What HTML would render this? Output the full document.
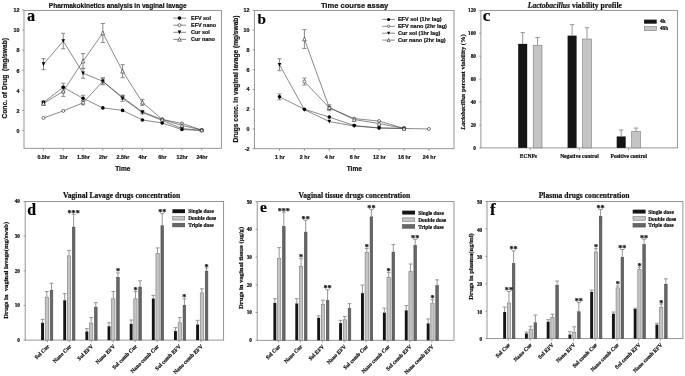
<!DOCTYPE html>
<html><head><meta charset="utf-8"><style>
html,body{margin:0;padding:0;background:#fff;}
body{width:685px;height:376px;overflow:hidden;font-family:"Liberation Sans", sans-serif;}
svg{display:block;will-change:transform;} text{stroke:#111;stroke-width:0.2px;}
</style></head><body>
<svg width="685" height="376" viewBox="0 0 685 376">
<rect width="685" height="376" fill="#fff"/>
<rect x="24" y="10.4" width="197.4" height="137.9" fill="none" stroke="#8a8a8a" stroke-width="0.9"/>
<line x1="22.4" y1="130.5" x2="24" y2="130.5" stroke="#8a8a8a" stroke-width="0.9"/>
<text x="19.4" y="132.8" font-family='"Liberation Sans", sans-serif' font-size="5.4" font-weight="bold" text-anchor="end" fill="#111" >0</text>
<line x1="22.4" y1="110.4" x2="24" y2="110.4" stroke="#8a8a8a" stroke-width="0.9"/>
<text x="19.4" y="112.7" font-family='"Liberation Sans", sans-serif' font-size="5.4" font-weight="bold" text-anchor="end" fill="#111" >2</text>
<line x1="22.4" y1="90.3" x2="24" y2="90.3" stroke="#8a8a8a" stroke-width="0.9"/>
<text x="19.4" y="92.6" font-family='"Liberation Sans", sans-serif' font-size="5.4" font-weight="bold" text-anchor="end" fill="#111" >4</text>
<line x1="22.4" y1="70.2" x2="24" y2="70.2" stroke="#8a8a8a" stroke-width="0.9"/>
<text x="19.4" y="72.5" font-family='"Liberation Sans", sans-serif' font-size="5.4" font-weight="bold" text-anchor="end" fill="#111" >6</text>
<line x1="22.4" y1="50.1" x2="24" y2="50.1" stroke="#8a8a8a" stroke-width="0.9"/>
<text x="19.4" y="52.4" font-family='"Liberation Sans", sans-serif' font-size="5.4" font-weight="bold" text-anchor="end" fill="#111" >8</text>
<line x1="22.4" y1="30" x2="24" y2="30" stroke="#8a8a8a" stroke-width="0.9"/>
<text x="19.4" y="32.3" font-family='"Liberation Sans", sans-serif' font-size="5.4" font-weight="bold" text-anchor="end" fill="#111" >10</text>
<line x1="22.4" y1="9.9" x2="24" y2="9.9" stroke="#8a8a8a" stroke-width="0.9"/>
<text x="19.4" y="12.2" font-family='"Liberation Sans", sans-serif' font-size="5.4" font-weight="bold" text-anchor="end" fill="#111" >12</text>
<line x1="43.5" y1="148.3" x2="43.5" y2="150.3" stroke="#8a8a8a" stroke-width="0.9"/>
<line x1="63.28" y1="148.3" x2="63.28" y2="150.3" stroke="#8a8a8a" stroke-width="0.9"/>
<line x1="83.06" y1="148.3" x2="83.06" y2="150.3" stroke="#8a8a8a" stroke-width="0.9"/>
<line x1="102.84" y1="148.3" x2="102.84" y2="150.3" stroke="#8a8a8a" stroke-width="0.9"/>
<line x1="122.62" y1="148.3" x2="122.62" y2="150.3" stroke="#8a8a8a" stroke-width="0.9"/>
<line x1="142.4" y1="148.3" x2="142.4" y2="150.3" stroke="#8a8a8a" stroke-width="0.9"/>
<line x1="162.18" y1="148.3" x2="162.18" y2="150.3" stroke="#8a8a8a" stroke-width="0.9"/>
<line x1="181.96" y1="148.3" x2="181.96" y2="150.3" stroke="#8a8a8a" stroke-width="0.9"/>
<line x1="201.74" y1="148.3" x2="201.74" y2="150.3" stroke="#8a8a8a" stroke-width="0.9"/>
<text x="43.8" y="159" font-family='"Liberation Sans", sans-serif' font-size="5.35" font-weight="bold" text-anchor="middle" fill="#111" >0.5hr</text>
<text x="63.58" y="159" font-family='"Liberation Sans", sans-serif' font-size="5.35" font-weight="bold" text-anchor="middle" fill="#111" >1hr</text>
<text x="83.36" y="159" font-family='"Liberation Sans", sans-serif' font-size="5.35" font-weight="bold" text-anchor="middle" fill="#111" >1.5hr</text>
<text x="103.14" y="159" font-family='"Liberation Sans", sans-serif' font-size="5.35" font-weight="bold" text-anchor="middle" fill="#111" >2hr</text>
<text x="122.92" y="159" font-family='"Liberation Sans", sans-serif' font-size="5.35" font-weight="bold" text-anchor="middle" fill="#111" >2.5hr</text>
<text x="142.7" y="159" font-family='"Liberation Sans", sans-serif' font-size="5.35" font-weight="bold" text-anchor="middle" fill="#111" >4hr</text>
<text x="162.48" y="159" font-family='"Liberation Sans", sans-serif' font-size="5.35" font-weight="bold" text-anchor="middle" fill="#111" >6hr</text>
<text x="182.26" y="159" font-family='"Liberation Sans", sans-serif' font-size="5.35" font-weight="bold" text-anchor="middle" fill="#111" >12hr</text>
<text x="202.04" y="159" font-family='"Liberation Sans", sans-serif' font-size="5.35" font-weight="bold" text-anchor="middle" fill="#111" >24hr</text>
<text x="122.8" y="170.5" font-family='"Liberation Sans", sans-serif' font-size="6.5" font-weight="bold" text-anchor="middle" fill="#111" >Time</text>
<text x="117.8" y="7.6" font-family='"Liberation Sans", sans-serif' font-size="6.55" font-weight="bold" text-anchor="middle" fill="#111" >Pharmakokinetics analysis in vaginal lavage</text>
<text x="7.1" y="78.3" font-family='"Liberation Sans", sans-serif' font-size="6.65" font-weight="bold" text-anchor="middle" fill="#111" transform="rotate(-90 7.1 78.3)">Conc. of Drug&#160;&#160;(mg/swab)</text>
<text x="27.0" y="21.2" font-family='"Liberation Serif", serif' font-size="16.2" font-weight="bold" fill="#000">a</text>
<path d="M43.5 102.36L63.28 87.28L83.06 98.34L102.84 107.89L122.62 110.4L142.4 119.95L162.18 122.96L181.96 129.5L201.74 130.5" fill="none" stroke="#3a3a3a" stroke-width="0.6"/>
<path d="M43.5 117.94L63.28 110.9L83.06 102.86L102.84 81.25L122.62 97.34L142.4 111.91L162.18 119.44L181.96 123.47L201.74 130" fill="none" stroke="#3a3a3a" stroke-width="0.6"/>
<path d="M43.5 64.17L63.28 41.05L83.06 73.22L102.84 81.25L122.62 98.34L142.4 112.41L162.18 120.45L181.96 128.49L201.74 130.5" fill="none" stroke="#3a3a3a" stroke-width="0.6"/>
<path d="M43.5 103.36L63.28 91.31L83.06 61.15L102.84 33.02L122.62 71.2L142.4 102.36L162.18 119.44L181.96 125.47L201.74 130" fill="none" stroke="#3a3a3a" stroke-width="0.6"/>
<line x1="43.5" y1="103.87" x2="43.5" y2="100.85" stroke="#8a8a8a" stroke-width="1.0"/>
<line x1="41.4" y1="100.85" x2="45.6" y2="100.85" stroke="#8a8a8a" stroke-width="1.0"/>
<line x1="41.4" y1="103.87" x2="45.6" y2="103.87" stroke="#8a8a8a" stroke-width="1.0"/>
<line x1="63.28" y1="91.31" x2="63.28" y2="83.26" stroke="#8a8a8a" stroke-width="1.0"/>
<line x1="61.18" y1="83.26" x2="65.38" y2="83.26" stroke="#8a8a8a" stroke-width="1.0"/>
<line x1="61.18" y1="91.31" x2="65.38" y2="91.31" stroke="#8a8a8a" stroke-width="1.0"/>
<line x1="83.06" y1="101.35" x2="83.06" y2="95.32" stroke="#8a8a8a" stroke-width="1.0"/>
<line x1="80.96" y1="95.32" x2="85.16" y2="95.32" stroke="#8a8a8a" stroke-width="1.0"/>
<line x1="80.96" y1="101.35" x2="85.16" y2="101.35" stroke="#8a8a8a" stroke-width="1.0"/>
<line x1="83.06" y1="104.87" x2="83.06" y2="100.85" stroke="#8a8a8a" stroke-width="1.0"/>
<line x1="80.96" y1="100.85" x2="85.16" y2="100.85" stroke="#8a8a8a" stroke-width="1.0"/>
<line x1="80.96" y1="104.87" x2="85.16" y2="104.87" stroke="#8a8a8a" stroke-width="1.0"/>
<line x1="102.84" y1="84.27" x2="102.84" y2="78.24" stroke="#8a8a8a" stroke-width="1.0"/>
<line x1="100.74" y1="78.24" x2="104.94" y2="78.24" stroke="#8a8a8a" stroke-width="1.0"/>
<line x1="100.74" y1="84.27" x2="104.94" y2="84.27" stroke="#8a8a8a" stroke-width="1.0"/>
<line x1="122.62" y1="99.34" x2="122.62" y2="95.32" stroke="#8a8a8a" stroke-width="1.0"/>
<line x1="120.52" y1="95.32" x2="124.72" y2="95.32" stroke="#8a8a8a" stroke-width="1.0"/>
<line x1="120.52" y1="99.34" x2="124.72" y2="99.34" stroke="#8a8a8a" stroke-width="1.0"/>
<line x1="43.5" y1="69.7" x2="43.5" y2="58.64" stroke="#8a8a8a" stroke-width="1.0"/>
<line x1="41.4" y1="58.64" x2="45.6" y2="58.64" stroke="#8a8a8a" stroke-width="1.0"/>
<line x1="41.4" y1="69.7" x2="45.6" y2="69.7" stroke="#8a8a8a" stroke-width="1.0"/>
<line x1="63.28" y1="48.79" x2="63.28" y2="33.32" stroke="#8a8a8a" stroke-width="1.0"/>
<line x1="61.18" y1="33.32" x2="65.38" y2="33.32" stroke="#8a8a8a" stroke-width="1.0"/>
<line x1="61.18" y1="48.79" x2="65.38" y2="48.79" stroke="#8a8a8a" stroke-width="1.0"/>
<line x1="83.06" y1="78.24" x2="83.06" y2="68.19" stroke="#8a8a8a" stroke-width="1.0"/>
<line x1="80.96" y1="68.19" x2="85.16" y2="68.19" stroke="#8a8a8a" stroke-width="1.0"/>
<line x1="80.96" y1="78.24" x2="85.16" y2="78.24" stroke="#8a8a8a" stroke-width="1.0"/>
<line x1="102.84" y1="84.77" x2="102.84" y2="77.74" stroke="#8a8a8a" stroke-width="1.0"/>
<line x1="100.74" y1="77.74" x2="104.94" y2="77.74" stroke="#8a8a8a" stroke-width="1.0"/>
<line x1="100.74" y1="84.77" x2="104.94" y2="84.77" stroke="#8a8a8a" stroke-width="1.0"/>
<line x1="122.62" y1="101.35" x2="122.62" y2="95.32" stroke="#8a8a8a" stroke-width="1.0"/>
<line x1="120.52" y1="95.32" x2="124.72" y2="95.32" stroke="#8a8a8a" stroke-width="1.0"/>
<line x1="120.52" y1="101.35" x2="124.72" y2="101.35" stroke="#8a8a8a" stroke-width="1.0"/>
<line x1="142.4" y1="113.92" x2="142.4" y2="110.9" stroke="#8a8a8a" stroke-width="1.0"/>
<line x1="140.3" y1="110.9" x2="144.5" y2="110.9" stroke="#8a8a8a" stroke-width="1.0"/>
<line x1="140.3" y1="113.92" x2="144.5" y2="113.92" stroke="#8a8a8a" stroke-width="1.0"/>
<line x1="43.5" y1="105.38" x2="43.5" y2="101.35" stroke="#8a8a8a" stroke-width="1.0"/>
<line x1="41.4" y1="101.35" x2="45.6" y2="101.35" stroke="#8a8a8a" stroke-width="1.0"/>
<line x1="41.4" y1="105.38" x2="45.6" y2="105.38" stroke="#8a8a8a" stroke-width="1.0"/>
<line x1="63.28" y1="96.33" x2="63.28" y2="86.28" stroke="#8a8a8a" stroke-width="1.0"/>
<line x1="61.18" y1="86.28" x2="65.38" y2="86.28" stroke="#8a8a8a" stroke-width="1.0"/>
<line x1="61.18" y1="96.33" x2="65.38" y2="96.33" stroke="#8a8a8a" stroke-width="1.0"/>
<line x1="83.06" y1="68.69" x2="83.06" y2="53.62" stroke="#8a8a8a" stroke-width="1.0"/>
<line x1="80.96" y1="53.62" x2="85.16" y2="53.62" stroke="#8a8a8a" stroke-width="1.0"/>
<line x1="80.96" y1="68.69" x2="85.16" y2="68.69" stroke="#8a8a8a" stroke-width="1.0"/>
<line x1="102.84" y1="42.56" x2="102.84" y2="23.47" stroke="#8a8a8a" stroke-width="1.0"/>
<line x1="100.74" y1="23.47" x2="104.94" y2="23.47" stroke="#8a8a8a" stroke-width="1.0"/>
<line x1="100.74" y1="42.56" x2="104.94" y2="42.56" stroke="#8a8a8a" stroke-width="1.0"/>
<line x1="122.62" y1="77.74" x2="122.62" y2="64.67" stroke="#8a8a8a" stroke-width="1.0"/>
<line x1="120.52" y1="64.67" x2="124.72" y2="64.67" stroke="#8a8a8a" stroke-width="1.0"/>
<line x1="120.52" y1="77.74" x2="124.72" y2="77.74" stroke="#8a8a8a" stroke-width="1.0"/>
<line x1="142.4" y1="105.38" x2="142.4" y2="99.34" stroke="#8a8a8a" stroke-width="1.0"/>
<line x1="140.3" y1="99.34" x2="144.5" y2="99.34" stroke="#8a8a8a" stroke-width="1.0"/>
<line x1="140.3" y1="105.38" x2="144.5" y2="105.38" stroke="#8a8a8a" stroke-width="1.0"/>
<circle cx="43.5" cy="102.36" r="1.8" fill="#000"/>
<circle cx="63.28" cy="87.28" r="1.8" fill="#000"/>
<circle cx="83.06" cy="98.34" r="1.8" fill="#000"/>
<circle cx="102.84" cy="107.89" r="1.8" fill="#000"/>
<circle cx="122.62" cy="110.4" r="1.8" fill="#000"/>
<circle cx="142.4" cy="119.95" r="1.8" fill="#000"/>
<circle cx="162.18" cy="122.96" r="1.8" fill="#000"/>
<circle cx="181.96" cy="129.5" r="1.8" fill="#000"/>
<circle cx="201.74" cy="130.5" r="1.8" fill="#000"/>
<circle cx="43.5" cy="117.94" r="1.5" fill="#fff" stroke="#222" stroke-width="0.6"/>
<circle cx="63.28" cy="110.9" r="1.5" fill="#fff" stroke="#222" stroke-width="0.6"/>
<circle cx="83.06" cy="102.86" r="1.5" fill="#fff" stroke="#222" stroke-width="0.6"/>
<circle cx="102.84" cy="81.25" r="1.5" fill="#fff" stroke="#222" stroke-width="0.6"/>
<circle cx="122.62" cy="97.34" r="1.5" fill="#fff" stroke="#222" stroke-width="0.6"/>
<circle cx="142.4" cy="111.91" r="1.5" fill="#fff" stroke="#222" stroke-width="0.6"/>
<circle cx="162.18" cy="119.44" r="1.5" fill="#fff" stroke="#222" stroke-width="0.6"/>
<circle cx="181.96" cy="123.47" r="1.5" fill="#fff" stroke="#222" stroke-width="0.6"/>
<circle cx="201.74" cy="130" r="1.5" fill="#fff" stroke="#222" stroke-width="0.6"/>
<path d="M41.7 62.37L45.3 62.37L43.5 66.15Z" fill="#000"/>
<path d="M61.48 39.25L65.08 39.25L63.28 43.03Z" fill="#000"/>
<path d="M81.26 71.42L84.86 71.42L83.06 75.2Z" fill="#000"/>
<path d="M101.04 79.45L104.64 79.45L102.84 83.23Z" fill="#000"/>
<path d="M120.82 96.54L124.42 96.54L122.62 100.32Z" fill="#000"/>
<path d="M140.6 110.61L144.2 110.61L142.4 114.39Z" fill="#000"/>
<path d="M160.38 118.65L163.98 118.65L162.18 122.43Z" fill="#000"/>
<path d="M180.16 126.69L183.76 126.69L181.96 130.47Z" fill="#000"/>
<path d="M199.94 128.7L203.54 128.7L201.74 132.48Z" fill="#000"/>
<path d="M41.7 105.16L45.3 105.16L43.5 101.38Z" fill="#fff" stroke="#222" stroke-width="0.6"/>
<path d="M61.48 93.11L65.08 93.11L63.28 89.33Z" fill="#fff" stroke="#222" stroke-width="0.6"/>
<path d="M81.26 62.95L84.86 62.95L83.06 59.17Z" fill="#fff" stroke="#222" stroke-width="0.6"/>
<path d="M101.04 34.81L104.64 34.81L102.84 31.04Z" fill="#fff" stroke="#222" stroke-width="0.6"/>
<path d="M120.82 73L124.42 73L122.62 69.22Z" fill="#fff" stroke="#222" stroke-width="0.6"/>
<path d="M140.6 104.16L144.2 104.16L142.4 100.38Z" fill="#fff" stroke="#222" stroke-width="0.6"/>
<path d="M160.38 121.24L163.98 121.24L162.18 117.46Z" fill="#fff" stroke="#222" stroke-width="0.6"/>
<path d="M180.16 127.27L183.76 127.27L181.96 123.49Z" fill="#fff" stroke="#222" stroke-width="0.6"/>
<path d="M199.94 131.8L203.54 131.8L201.74 128.02Z" fill="#fff" stroke="#222" stroke-width="0.6"/>
<line x1="173.3" y1="18.1" x2="186" y2="18.1" stroke="#3a3a3a" stroke-width="0.6"/>
<circle cx="179.5" cy="18.1" r="1.8" fill="#000"/>
<text x="191" y="20.1" font-family='"Liberation Sans", sans-serif' font-size="5.45" font-weight="bold" text-anchor="start" fill="#111" >EFV sol</text>
<line x1="173.3" y1="25.2" x2="186" y2="25.2" stroke="#3a3a3a" stroke-width="0.6"/>
<circle cx="179.5" cy="25.2" r="1.5" fill="#fff" stroke="#222" stroke-width="0.6"/>
<text x="191" y="27.2" font-family='"Liberation Sans", sans-serif' font-size="5.45" font-weight="bold" text-anchor="start" fill="#111" >EFV nano</text>
<line x1="173.3" y1="32.3" x2="186" y2="32.3" stroke="#3a3a3a" stroke-width="0.6"/>
<path d="M177.7 30.5L181.3 30.5L179.5 34.28Z" fill="#000"/>
<text x="191" y="34.3" font-family='"Liberation Sans", sans-serif' font-size="5.45" font-weight="bold" text-anchor="start" fill="#111" >Cur sol</text>
<line x1="173.3" y1="39.4" x2="186" y2="39.4" stroke="#3a3a3a" stroke-width="0.6"/>
<path d="M177.7 41.2L181.3 41.2L179.5 37.42Z" fill="#fff" stroke="#222" stroke-width="0.6"/>
<text x="191" y="41.4" font-family='"Liberation Sans", sans-serif' font-size="5.45" font-weight="bold" text-anchor="start" fill="#111" >Cur nano</text>
<rect x="254.4" y="10.4" width="199.6" height="138.3" fill="none" stroke="#8a8a8a" stroke-width="0.9"/>
<line x1="252.8" y1="148.72" x2="254.4" y2="148.72" stroke="#8a8a8a" stroke-width="0.9"/>
<text x="249.6" y="150.72" font-family='"Liberation Sans", sans-serif' font-size="5.4" font-weight="bold" text-anchor="end" fill="#111" >-2</text>
<line x1="252.8" y1="128.96" x2="254.4" y2="128.96" stroke="#8a8a8a" stroke-width="0.9"/>
<text x="249.6" y="130.96" font-family='"Liberation Sans", sans-serif' font-size="5.4" font-weight="bold" text-anchor="end" fill="#111" >0</text>
<line x1="252.8" y1="109.2" x2="254.4" y2="109.2" stroke="#8a8a8a" stroke-width="0.9"/>
<text x="249.6" y="111.2" font-family='"Liberation Sans", sans-serif' font-size="5.4" font-weight="bold" text-anchor="end" fill="#111" >2</text>
<line x1="252.8" y1="89.44" x2="254.4" y2="89.44" stroke="#8a8a8a" stroke-width="0.9"/>
<text x="249.6" y="91.44" font-family='"Liberation Sans", sans-serif' font-size="5.4" font-weight="bold" text-anchor="end" fill="#111" >4</text>
<line x1="252.8" y1="69.68" x2="254.4" y2="69.68" stroke="#8a8a8a" stroke-width="0.9"/>
<text x="249.6" y="71.68" font-family='"Liberation Sans", sans-serif' font-size="5.4" font-weight="bold" text-anchor="end" fill="#111" >6</text>
<line x1="252.8" y1="49.92" x2="254.4" y2="49.92" stroke="#8a8a8a" stroke-width="0.9"/>
<text x="249.6" y="51.92" font-family='"Liberation Sans", sans-serif' font-size="5.4" font-weight="bold" text-anchor="end" fill="#111" >8</text>
<line x1="252.8" y1="30.16" x2="254.4" y2="30.16" stroke="#8a8a8a" stroke-width="0.9"/>
<text x="249.6" y="32.16" font-family='"Liberation Sans", sans-serif' font-size="5.4" font-weight="bold" text-anchor="end" fill="#111" >10</text>
<line x1="252.8" y1="10.4" x2="254.4" y2="10.4" stroke="#8a8a8a" stroke-width="0.9"/>
<text x="249.6" y="12.4" font-family='"Liberation Sans", sans-serif' font-size="5.4" font-weight="bold" text-anchor="end" fill="#111" >12</text>
<line x1="279.5" y1="148.7" x2="279.5" y2="150.7" stroke="#8a8a8a" stroke-width="0.9"/>
<line x1="304.4" y1="148.7" x2="304.4" y2="150.7" stroke="#8a8a8a" stroke-width="0.9"/>
<line x1="329.3" y1="148.7" x2="329.3" y2="150.7" stroke="#8a8a8a" stroke-width="0.9"/>
<line x1="354.2" y1="148.7" x2="354.2" y2="150.7" stroke="#8a8a8a" stroke-width="0.9"/>
<line x1="379.1" y1="148.7" x2="379.1" y2="150.7" stroke="#8a8a8a" stroke-width="0.9"/>
<line x1="404" y1="148.7" x2="404" y2="150.7" stroke="#8a8a8a" stroke-width="0.9"/>
<line x1="428.9" y1="148.7" x2="428.9" y2="150.7" stroke="#8a8a8a" stroke-width="0.9"/>
<text x="279.9" y="159" font-family='"Liberation Sans", sans-serif' font-size="5.4" font-weight="bold" text-anchor="middle" fill="#111" >1 hr</text>
<text x="304.8" y="159" font-family='"Liberation Sans", sans-serif' font-size="5.4" font-weight="bold" text-anchor="middle" fill="#111" >2 hr</text>
<text x="329.7" y="159" font-family='"Liberation Sans", sans-serif' font-size="5.4" font-weight="bold" text-anchor="middle" fill="#111" >4 hr</text>
<text x="354.6" y="159" font-family='"Liberation Sans", sans-serif' font-size="5.4" font-weight="bold" text-anchor="middle" fill="#111" >6 hr</text>
<text x="379.5" y="159" font-family='"Liberation Sans", sans-serif' font-size="5.4" font-weight="bold" text-anchor="middle" fill="#111" >12 hr</text>
<text x="404.4" y="159" font-family='"Liberation Sans", sans-serif' font-size="5.4" font-weight="bold" text-anchor="middle" fill="#111" >16 hr</text>
<text x="429.3" y="159" font-family='"Liberation Sans", sans-serif' font-size="5.4" font-weight="bold" text-anchor="middle" fill="#111" >24 hr</text>
<text x="354.3" y="170.5" font-family='"Liberation Sans", sans-serif' font-size="6.5" font-weight="bold" text-anchor="middle" fill="#111" >Time</text>
<text x="354.6" y="7.5" font-family='"Liberation Sans", sans-serif' font-size="7.55" font-weight="bold" text-anchor="middle" fill="#111" >Time course assay</text>
<text x="238.2" y="79" font-family='"Liberation Sans", sans-serif' font-size="6.6" font-weight="bold" text-anchor="middle" fill="#111" transform="rotate(-90 238.2 79.0)">Drugs conc. in vaginal lavage (mg/swab)</text>
<text x="257.5" y="24.4" font-family='"Liberation Serif", serif' font-size="15.2" font-weight="bold" fill="#000">b</text>
<path d="M279.5 96.85L304.4 109.2L329.3 117.1L354.2 125.5L379.1 127.97L404 128.47" fill="none" stroke="#3a3a3a" stroke-width="0.6"/>
<path d="M304.4 81.54L329.3 107.72L354.2 118.59L379.1 121.06L404 128.47L428.9 128.96" fill="none" stroke="#3a3a3a" stroke-width="0.6"/>
<path d="M279.5 64.74L304.4 109.69L329.3 121.55L354.2 126L379.1 127.97L404 128.47" fill="none" stroke="#3a3a3a" stroke-width="0.6"/>
<path d="M304.4 39.05L329.3 107.72L354.2 119.57L379.1 123.53L404 128.47" fill="none" stroke="#3a3a3a" stroke-width="0.6"/>
<line x1="279.5" y1="99.81" x2="279.5" y2="93.89" stroke="#8a8a8a" stroke-width="1.0"/>
<line x1="277.4" y1="93.89" x2="281.6" y2="93.89" stroke="#8a8a8a" stroke-width="1.0"/>
<line x1="277.4" y1="99.81" x2="281.6" y2="99.81" stroke="#8a8a8a" stroke-width="1.0"/>
<line x1="304.4" y1="84.99" x2="304.4" y2="78.08" stroke="#8a8a8a" stroke-width="1.0"/>
<line x1="302.3" y1="78.08" x2="306.5" y2="78.08" stroke="#8a8a8a" stroke-width="1.0"/>
<line x1="302.3" y1="84.99" x2="306.5" y2="84.99" stroke="#8a8a8a" stroke-width="1.0"/>
<line x1="329.3" y1="109.2" x2="329.3" y2="106.24" stroke="#8a8a8a" stroke-width="1.0"/>
<line x1="327.2" y1="106.24" x2="331.4" y2="106.24" stroke="#8a8a8a" stroke-width="1.0"/>
<line x1="327.2" y1="109.2" x2="331.4" y2="109.2" stroke="#8a8a8a" stroke-width="1.0"/>
<line x1="279.5" y1="70.67" x2="279.5" y2="58.81" stroke="#8a8a8a" stroke-width="1.0"/>
<line x1="277.4" y1="58.81" x2="281.6" y2="58.81" stroke="#8a8a8a" stroke-width="1.0"/>
<line x1="277.4" y1="70.67" x2="281.6" y2="70.67" stroke="#8a8a8a" stroke-width="1.0"/>
<line x1="304.4" y1="48.44" x2="304.4" y2="29.67" stroke="#8a8a8a" stroke-width="1.0"/>
<line x1="302.3" y1="29.67" x2="306.5" y2="29.67" stroke="#8a8a8a" stroke-width="1.0"/>
<line x1="302.3" y1="48.44" x2="306.5" y2="48.44" stroke="#8a8a8a" stroke-width="1.0"/>
<line x1="329.3" y1="110.68" x2="329.3" y2="104.75" stroke="#8a8a8a" stroke-width="1.0"/>
<line x1="327.2" y1="104.75" x2="331.4" y2="104.75" stroke="#8a8a8a" stroke-width="1.0"/>
<line x1="327.2" y1="110.68" x2="331.4" y2="110.68" stroke="#8a8a8a" stroke-width="1.0"/>
<circle cx="279.5" cy="96.85" r="1.8" fill="#000"/>
<circle cx="304.4" cy="109.2" r="1.8" fill="#000"/>
<circle cx="329.3" cy="117.1" r="1.8" fill="#000"/>
<circle cx="354.2" cy="125.5" r="1.8" fill="#000"/>
<circle cx="379.1" cy="127.97" r="1.8" fill="#000"/>
<circle cx="404" cy="128.47" r="1.8" fill="#000"/>
<circle cx="304.4" cy="81.54" r="1.5" fill="#fff" stroke="#222" stroke-width="0.6"/>
<circle cx="329.3" cy="107.72" r="1.5" fill="#fff" stroke="#222" stroke-width="0.6"/>
<circle cx="354.2" cy="118.59" r="1.5" fill="#fff" stroke="#222" stroke-width="0.6"/>
<circle cx="379.1" cy="121.06" r="1.5" fill="#fff" stroke="#222" stroke-width="0.6"/>
<circle cx="404" cy="128.47" r="1.5" fill="#fff" stroke="#222" stroke-width="0.6"/>
<circle cx="428.9" cy="128.96" r="1.5" fill="#fff" stroke="#222" stroke-width="0.6"/>
<path d="M277.7 62.94L281.3 62.94L279.5 66.72Z" fill="#000"/>
<path d="M302.6 107.89L306.2 107.89L304.4 111.67Z" fill="#000"/>
<path d="M327.5 119.75L331.1 119.75L329.3 123.53Z" fill="#000"/>
<path d="M352.4 124.2L356 124.2L354.2 127.98Z" fill="#000"/>
<path d="M377.3 126.17L380.9 126.17L379.1 129.95Z" fill="#000"/>
<path d="M402.2 126.67L405.8 126.67L404 130.45Z" fill="#000"/>
<path d="M302.6 40.85L306.2 40.85L304.4 37.07Z" fill="#fff" stroke="#222" stroke-width="0.6"/>
<path d="M327.5 109.52L331.1 109.52L329.3 105.74Z" fill="#fff" stroke="#222" stroke-width="0.6"/>
<path d="M352.4 121.37L356 121.37L354.2 117.59Z" fill="#fff" stroke="#222" stroke-width="0.6"/>
<path d="M377.3 125.33L380.9 125.33L379.1 121.55Z" fill="#fff" stroke="#222" stroke-width="0.6"/>
<path d="M402.2 130.27L405.8 130.27L404 126.49Z" fill="#fff" stroke="#222" stroke-width="0.6"/>
<line x1="382.3" y1="19.4" x2="394.9" y2="19.4" stroke="#3a3a3a" stroke-width="0.6"/>
<circle cx="388.6" cy="19.4" r="1.5" fill="#000"/>
<text x="397.9" y="21.4" font-family='"Liberation Sans", sans-serif' font-size="5.55" font-weight="bold" text-anchor="start" fill="#111" >EFV sol (1hr lag)</text>
<line x1="382.3" y1="26.3" x2="394.9" y2="26.3" stroke="#3a3a3a" stroke-width="0.6"/>
<circle cx="388.6" cy="26.3" r="1.2" fill="#fff" stroke="#222" stroke-width="0.6"/>
<text x="397.9" y="28.3" font-family='"Liberation Sans", sans-serif' font-size="5.55" font-weight="bold" text-anchor="start" fill="#111" >EFV nano (2hr lag)</text>
<line x1="382.3" y1="33.2" x2="394.9" y2="33.2" stroke="#3a3a3a" stroke-width="0.6"/>
<path d="M387.1 31.7L390.1 31.7L388.6 34.85Z" fill="#000"/>
<text x="397.9" y="35.2" font-family='"Liberation Sans", sans-serif' font-size="5.55" font-weight="bold" text-anchor="start" fill="#111" >Cur sol (1hr lag)</text>
<line x1="382.3" y1="40.1" x2="394.9" y2="40.1" stroke="#3a3a3a" stroke-width="0.6"/>
<path d="M387.1 41.6L390.1 41.6L388.6 38.45Z" fill="#fff" stroke="#222" stroke-width="0.6"/>
<text x="397.9" y="42.1" font-family='"Liberation Sans", sans-serif' font-size="5.55" font-weight="bold" text-anchor="start" fill="#111" >Cur nano (2hr lag)</text>
<rect x="480.9" y="10.4" width="196.5" height="137.5" fill="none" stroke="#8a8a8a" stroke-width="0.9"/>
<line x1="479.3" y1="147.9" x2="480.9" y2="147.9" stroke="#8a8a8a" stroke-width="0.9"/>
<text x="476" y="149.7" font-family='"Liberation Serif", serif' font-size="5.3" font-weight="bold" text-anchor="end" fill="#111" >0</text>
<line x1="479.3" y1="124.98" x2="480.9" y2="124.98" stroke="#8a8a8a" stroke-width="0.9"/>
<text x="476" y="126.78" font-family='"Liberation Serif", serif' font-size="5.3" font-weight="bold" text-anchor="end" fill="#111" >20</text>
<line x1="479.3" y1="102.07" x2="480.9" y2="102.07" stroke="#8a8a8a" stroke-width="0.9"/>
<text x="476" y="103.87" font-family='"Liberation Serif", serif' font-size="5.3" font-weight="bold" text-anchor="end" fill="#111" >40</text>
<line x1="479.3" y1="79.15" x2="480.9" y2="79.15" stroke="#8a8a8a" stroke-width="0.9"/>
<text x="476" y="80.95" font-family='"Liberation Serif", serif' font-size="5.3" font-weight="bold" text-anchor="end" fill="#111" >60</text>
<line x1="479.3" y1="56.23" x2="480.9" y2="56.23" stroke="#8a8a8a" stroke-width="0.9"/>
<text x="476" y="58.03" font-family='"Liberation Serif", serif' font-size="5.3" font-weight="bold" text-anchor="end" fill="#111" >80</text>
<line x1="479.3" y1="33.32" x2="480.9" y2="33.32" stroke="#8a8a8a" stroke-width="0.9"/>
<text x="476" y="35.12" font-family='"Liberation Serif", serif' font-size="5.3" font-weight="bold" text-anchor="end" fill="#111" >100</text>
<line x1="479.3" y1="10.4" x2="480.9" y2="10.4" stroke="#8a8a8a" stroke-width="0.9"/>
<text x="476" y="12.2" font-family='"Liberation Serif", serif' font-size="5.3" font-weight="bold" text-anchor="end" fill="#111" >120</text>
<line x1="530.1" y1="147.9" x2="530.1" y2="149.9" stroke="#8a8a8a" stroke-width="0.9"/>
<line x1="579.5" y1="147.9" x2="579.5" y2="149.9" stroke="#8a8a8a" stroke-width="0.9"/>
<line x1="628.6" y1="147.9" x2="628.6" y2="149.9" stroke="#8a8a8a" stroke-width="0.9"/>
<text x="528.4" y="158" font-family='"Liberation Serif", serif' font-size="5.5" font-weight="bold" text-anchor="middle" fill="#111" >ECNPs</text>
<text x="579.4" y="158" font-family='"Liberation Serif", serif' font-size="5.5" font-weight="bold" text-anchor="middle" fill="#111" >Negative control</text>
<text x="628.8" y="158" font-family='"Liberation Serif", serif' font-size="5.5" font-weight="bold" text-anchor="middle" fill="#111" >Positive control</text>
<text x="574.85" y="7.7" font-family='"Liberation Serif", serif' font-size="7.62" font-weight="bold" text-anchor="middle" fill="#111" ><tspan font-style="italic">Lactobacillus</tspan> viability profile</text>
<text x="464.9" y="82.1" font-family='"Liberation Serif", serif' font-size="6.5" font-weight="bold" text-anchor="middle" fill="#111" transform="rotate(-90 464.9 82.1)"><tspan font-style="italic">Lactobacillus</tspan> percent viability (%)</text>
<text x="482.8" y="20.9" font-family='"Liberation Serif", serif' font-size="17" font-weight="bold" fill="#000">c</text>
<rect x="518.2" y="43.86" width="9" height="104.04" fill="#141414"/>
<rect x="533.2" y="45.53" width="8.8" height="102.37" fill="#c4c4c4" stroke="#7a7a7a" stroke-width="0.6"/>
<line x1="522.7" y1="43.86" x2="522.7" y2="32.63" stroke="#8a8a8a" stroke-width="0.9"/>
<line x1="520.5" y1="32.63" x2="524.9" y2="32.63" stroke="#8a8a8a" stroke-width="0.9"/>
<line x1="537.6" y1="45.23" x2="537.6" y2="37.56" stroke="#8a8a8a" stroke-width="0.9"/>
<line x1="535.4" y1="37.56" x2="539.8" y2="37.56" stroke="#8a8a8a" stroke-width="0.9"/>
<rect x="567.6" y="35.61" width="9" height="112.29" fill="#141414"/>
<rect x="582.6" y="39" width="8.8" height="108.9" fill="#c4c4c4" stroke="#7a7a7a" stroke-width="0.6"/>
<line x1="572.1" y1="35.61" x2="572.1" y2="24.61" stroke="#8a8a8a" stroke-width="0.9"/>
<line x1="569.9" y1="24.61" x2="574.3" y2="24.61" stroke="#8a8a8a" stroke-width="0.9"/>
<line x1="587" y1="38.7" x2="587" y2="27.7" stroke="#8a8a8a" stroke-width="0.9"/>
<line x1="584.8" y1="27.7" x2="589.2" y2="27.7" stroke="#8a8a8a" stroke-width="0.9"/>
<rect x="616.7" y="136.44" width="9" height="11.46" fill="#141414"/>
<rect x="631.7" y="131.59" width="8.8" height="16.31" fill="#c4c4c4" stroke="#7a7a7a" stroke-width="0.6"/>
<line x1="621.2" y1="136.44" x2="621.2" y2="130.03" stroke="#8a8a8a" stroke-width="0.9"/>
<line x1="619" y1="130.03" x2="623.4" y2="130.03" stroke="#8a8a8a" stroke-width="0.9"/>
<line x1="636.1" y1="131.29" x2="636.1" y2="128.08" stroke="#8a8a8a" stroke-width="0.9"/>
<line x1="633.9" y1="128.08" x2="638.3" y2="128.08" stroke="#8a8a8a" stroke-width="0.9"/>
<rect x="644.1" y="19.6" width="12.6" height="4.1" fill="#141414"/>
<rect x="644.4" y="26.6" width="12" height="4" fill="#c4c4c4" stroke="#7a7a7a" stroke-width="0.6"/>
<text x="660" y="23.4" font-family='"Liberation Serif", serif' font-size="5.2" font-weight="bold" text-anchor="start" fill="#111" >4h</text>
<text x="660" y="30.2" font-family='"Liberation Serif", serif' font-size="5.2" font-weight="bold" text-anchor="start" fill="#111" >48h</text>
<rect x="25.2" y="201.5" width="198.4" height="138.6" fill="none" stroke="#8a8a8a" stroke-width="0.9"/>
<line x1="23.6" y1="340.1" x2="25.2" y2="340.1" stroke="#8a8a8a" stroke-width="0.9"/>
<text x="20" y="342" font-family='"Liberation Serif", serif' font-size="5.3" font-weight="bold" text-anchor="end" fill="#111" >0</text>
<line x1="23.6" y1="305.45" x2="25.2" y2="305.45" stroke="#8a8a8a" stroke-width="0.9"/>
<text x="20" y="307.35" font-family='"Liberation Serif", serif' font-size="5.3" font-weight="bold" text-anchor="end" fill="#111" >10</text>
<line x1="23.6" y1="270.8" x2="25.2" y2="270.8" stroke="#8a8a8a" stroke-width="0.9"/>
<text x="20" y="272.7" font-family='"Liberation Serif", serif' font-size="5.3" font-weight="bold" text-anchor="end" fill="#111" >20</text>
<line x1="23.6" y1="236.15" x2="25.2" y2="236.15" stroke="#8a8a8a" stroke-width="0.9"/>
<text x="20" y="238.05" font-family='"Liberation Serif", serif' font-size="5.3" font-weight="bold" text-anchor="end" fill="#111" >30</text>
<line x1="23.6" y1="201.5" x2="25.2" y2="201.5" stroke="#8a8a8a" stroke-width="0.9"/>
<text x="20" y="203.4" font-family='"Liberation Serif", serif' font-size="5.3" font-weight="bold" text-anchor="end" fill="#111" >40</text>
<line x1="47.4" y1="340.1" x2="47.4" y2="342.1" stroke="#8a8a8a" stroke-width="0.9"/>
<line x1="69.33" y1="340.1" x2="69.33" y2="342.1" stroke="#8a8a8a" stroke-width="0.9"/>
<line x1="91.26" y1="340.1" x2="91.26" y2="342.1" stroke="#8a8a8a" stroke-width="0.9"/>
<line x1="113.19" y1="340.1" x2="113.19" y2="342.1" stroke="#8a8a8a" stroke-width="0.9"/>
<line x1="135.12" y1="340.1" x2="135.12" y2="342.1" stroke="#8a8a8a" stroke-width="0.9"/>
<line x1="157.05" y1="340.1" x2="157.05" y2="342.1" stroke="#8a8a8a" stroke-width="0.9"/>
<line x1="178.98" y1="340.1" x2="178.98" y2="342.1" stroke="#8a8a8a" stroke-width="0.9"/>
<line x1="200.91" y1="340.1" x2="200.91" y2="342.1" stroke="#8a8a8a" stroke-width="0.9"/>
<text x="49.7" y="346.7" font-family='"Liberation Serif", serif' font-size="5.5" font-weight="bold" text-anchor="end" fill="#111" transform="rotate(-45 49.7 346.7)">Sol Cur</text>
<text x="71.63" y="346.7" font-family='"Liberation Serif", serif' font-size="5.5" font-weight="bold" text-anchor="end" fill="#111" transform="rotate(-45 71.63 346.7)">Nano Cur</text>
<text x="93.56" y="346.7" font-family='"Liberation Serif", serif' font-size="5.5" font-weight="bold" text-anchor="end" fill="#111" transform="rotate(-45 93.56 346.7)">Sol EFV</text>
<text x="115.49" y="346.7" font-family='"Liberation Serif", serif' font-size="5.5" font-weight="bold" text-anchor="end" fill="#111" transform="rotate(-45 115.49 346.7)">Nano EFV</text>
<text x="137.42" y="346.7" font-family='"Liberation Serif", serif' font-size="5.5" font-weight="bold" text-anchor="end" fill="#111" transform="rotate(-45 137.42 346.7)">Sol comb Cur</text>
<text x="159.35" y="346.7" font-family='"Liberation Serif", serif' font-size="5.5" font-weight="bold" text-anchor="end" fill="#111" transform="rotate(-45 159.35 346.7)">Nano comb Cur</text>
<text x="181.28" y="346.7" font-family='"Liberation Serif", serif' font-size="5.5" font-weight="bold" text-anchor="end" fill="#111" transform="rotate(-45 181.28 346.7)">Sol comb EFV</text>
<text x="203.21" y="346.7" font-family='"Liberation Serif", serif' font-size="5.5" font-weight="bold" text-anchor="end" fill="#111" transform="rotate(-45 203.21 346.7)">Nano comb EFV</text>
<text x="121.55" y="197.7" font-family='"Liberation Serif", serif' font-size="7.6" font-weight="bold" text-anchor="middle" fill="#111" >Vaginal Lavage drugs concentration</text>
<text x="7.7" y="270.35" font-family='"Liberation Serif", serif' font-size="6.58" font-weight="bold" text-anchor="middle" fill="#111" transform="rotate(-90 7.7 270.35)">Drugs in&#160;&#160;vaginal lavage(mg/swab)</text>
<text x="27.3" y="214.85" font-family='"Liberation Serif", serif' font-size="15.8" font-weight="bold" fill="#000">d</text>
<rect x="41.1" y="322.78" width="2.9" height="17.32" fill="#141414"/>
<line x1="42.55" y1="322.78" x2="42.55" y2="319.31" stroke="#8a8a8a" stroke-width="0.9"/>
<line x1="40.65" y1="319.31" x2="44.45" y2="319.31" stroke="#8a8a8a" stroke-width="0.9"/>
<rect x="45.2" y="297.09" width="3.3" height="43.01" fill="#c4c4c4" stroke="#7a7a7a" stroke-width="0.6"/>
<line x1="46.85" y1="296.79" x2="46.85" y2="291.59" stroke="#8a8a8a" stroke-width="0.9"/>
<line x1="44.95" y1="291.59" x2="48.75" y2="291.59" stroke="#8a8a8a" stroke-width="0.9"/>
<rect x="50.2" y="290.16" width="2.6" height="49.94" fill="#676767" stroke="#4a4a4a" stroke-width="0.6"/>
<line x1="51.5" y1="289.86" x2="51.5" y2="283.27" stroke="#8a8a8a" stroke-width="0.9"/>
<line x1="49.6" y1="283.27" x2="53.4" y2="283.27" stroke="#8a8a8a" stroke-width="0.9"/>
<rect x="63.25" y="300.25" width="2.9" height="39.85" fill="#141414"/>
<line x1="64.7" y1="300.25" x2="64.7" y2="293.67" stroke="#8a8a8a" stroke-width="0.9"/>
<line x1="62.8" y1="293.67" x2="66.6" y2="293.67" stroke="#8a8a8a" stroke-width="0.9"/>
<rect x="67.35" y="255.85" width="3.3" height="84.25" fill="#c4c4c4" stroke="#7a7a7a" stroke-width="0.6"/>
<line x1="69" y1="255.55" x2="69" y2="250.36" stroke="#8a8a8a" stroke-width="0.9"/>
<line x1="67.1" y1="250.36" x2="70.9" y2="250.36" stroke="#8a8a8a" stroke-width="0.9"/>
<rect x="72.35" y="227.09" width="2.6" height="113.01" fill="#676767" stroke="#4a4a4a" stroke-width="0.6"/>
<line x1="73.65" y1="226.79" x2="73.65" y2="214.32" stroke="#8a8a8a" stroke-width="0.9"/>
<line x1="71.75" y1="214.32" x2="75.55" y2="214.32" stroke="#8a8a8a" stroke-width="0.9"/>
<rect x="85.4" y="331.44" width="2.9" height="8.66" fill="#141414"/>
<line x1="86.85" y1="331.44" x2="86.85" y2="328.67" stroke="#8a8a8a" stroke-width="0.9"/>
<line x1="84.95" y1="328.67" x2="88.75" y2="328.67" stroke="#8a8a8a" stroke-width="0.9"/>
<rect x="89.5" y="323.08" width="3.3" height="17.02" fill="#c4c4c4" stroke="#7a7a7a" stroke-width="0.6"/>
<line x1="91.15" y1="322.78" x2="91.15" y2="317.58" stroke="#8a8a8a" stroke-width="0.9"/>
<line x1="89.25" y1="317.58" x2="93.05" y2="317.58" stroke="#8a8a8a" stroke-width="0.9"/>
<rect x="94.5" y="307.14" width="2.6" height="32.96" fill="#676767" stroke="#4a4a4a" stroke-width="0.6"/>
<line x1="95.8" y1="306.84" x2="95.8" y2="302.68" stroke="#8a8a8a" stroke-width="0.9"/>
<line x1="93.9" y1="302.68" x2="97.7" y2="302.68" stroke="#8a8a8a" stroke-width="0.9"/>
<rect x="107.55" y="326.24" width="2.9" height="13.86" fill="#141414"/>
<line x1="109" y1="326.24" x2="109" y2="322.78" stroke="#8a8a8a" stroke-width="0.9"/>
<line x1="107.1" y1="322.78" x2="110.9" y2="322.78" stroke="#8a8a8a" stroke-width="0.9"/>
<rect x="111.65" y="298.82" width="3.3" height="41.28" fill="#c4c4c4" stroke="#7a7a7a" stroke-width="0.6"/>
<line x1="113.3" y1="298.52" x2="113.3" y2="291.59" stroke="#8a8a8a" stroke-width="0.9"/>
<line x1="111.4" y1="291.59" x2="115.2" y2="291.59" stroke="#8a8a8a" stroke-width="0.9"/>
<rect x="116.65" y="277.34" width="2.6" height="62.76" fill="#676767" stroke="#4a4a4a" stroke-width="0.6"/>
<line x1="117.95" y1="277.04" x2="117.95" y2="272.88" stroke="#8a8a8a" stroke-width="0.9"/>
<line x1="116.05" y1="272.88" x2="119.85" y2="272.88" stroke="#8a8a8a" stroke-width="0.9"/>
<rect x="129.7" y="323.81" width="2.9" height="16.29" fill="#141414"/>
<line x1="131.15" y1="323.81" x2="131.15" y2="320" stroke="#8a8a8a" stroke-width="0.9"/>
<line x1="129.25" y1="320" x2="133.05" y2="320" stroke="#8a8a8a" stroke-width="0.9"/>
<rect x="133.8" y="298.82" width="3.3" height="41.28" fill="#c4c4c4" stroke="#7a7a7a" stroke-width="0.6"/>
<line x1="135.45" y1="298.52" x2="135.45" y2="291.59" stroke="#8a8a8a" stroke-width="0.9"/>
<line x1="133.55" y1="291.59" x2="137.35" y2="291.59" stroke="#8a8a8a" stroke-width="0.9"/>
<rect x="138.8" y="287.04" width="2.6" height="53.06" fill="#676767" stroke="#4a4a4a" stroke-width="0.6"/>
<line x1="140.1" y1="286.74" x2="140.1" y2="280.85" stroke="#8a8a8a" stroke-width="0.9"/>
<line x1="138.2" y1="280.85" x2="142" y2="280.85" stroke="#8a8a8a" stroke-width="0.9"/>
<rect x="151.85" y="298.52" width="2.9" height="41.58" fill="#141414"/>
<line x1="153.3" y1="298.52" x2="153.3" y2="295.4" stroke="#8a8a8a" stroke-width="0.9"/>
<line x1="151.4" y1="295.4" x2="155.2" y2="295.4" stroke="#8a8a8a" stroke-width="0.9"/>
<rect x="155.95" y="253.43" width="3.3" height="86.67" fill="#c4c4c4" stroke="#7a7a7a" stroke-width="0.6"/>
<line x1="157.6" y1="253.13" x2="157.6" y2="247.93" stroke="#8a8a8a" stroke-width="0.9"/>
<line x1="155.7" y1="247.93" x2="159.5" y2="247.93" stroke="#8a8a8a" stroke-width="0.9"/>
<rect x="160.95" y="225.71" width="2.6" height="114.39" fill="#676767" stroke="#4a4a4a" stroke-width="0.6"/>
<line x1="162.25" y1="225.41" x2="162.25" y2="213.63" stroke="#8a8a8a" stroke-width="0.9"/>
<line x1="160.35" y1="213.63" x2="164.15" y2="213.63" stroke="#8a8a8a" stroke-width="0.9"/>
<rect x="174" y="331.09" width="2.9" height="9.01" fill="#141414"/>
<line x1="175.45" y1="331.09" x2="175.45" y2="327.63" stroke="#8a8a8a" stroke-width="0.9"/>
<line x1="173.55" y1="327.63" x2="177.35" y2="327.63" stroke="#8a8a8a" stroke-width="0.9"/>
<rect x="178.1" y="322.73" width="3.3" height="17.37" fill="#c4c4c4" stroke="#7a7a7a" stroke-width="0.6"/>
<line x1="179.75" y1="322.43" x2="179.75" y2="317.58" stroke="#8a8a8a" stroke-width="0.9"/>
<line x1="177.85" y1="317.58" x2="181.65" y2="317.58" stroke="#8a8a8a" stroke-width="0.9"/>
<rect x="183.1" y="305.4" width="2.6" height="34.7" fill="#676767" stroke="#4a4a4a" stroke-width="0.6"/>
<line x1="184.4" y1="305.1" x2="184.4" y2="298.87" stroke="#8a8a8a" stroke-width="0.9"/>
<line x1="182.5" y1="298.87" x2="186.3" y2="298.87" stroke="#8a8a8a" stroke-width="0.9"/>
<rect x="196.15" y="324.51" width="2.9" height="15.59" fill="#141414"/>
<line x1="197.6" y1="324.51" x2="197.6" y2="320.35" stroke="#8a8a8a" stroke-width="0.9"/>
<line x1="195.7" y1="320.35" x2="199.5" y2="320.35" stroke="#8a8a8a" stroke-width="0.9"/>
<rect x="200.25" y="292.93" width="3.3" height="47.17" fill="#c4c4c4" stroke="#7a7a7a" stroke-width="0.6"/>
<line x1="201.9" y1="292.63" x2="201.9" y2="288.82" stroke="#8a8a8a" stroke-width="0.9"/>
<line x1="200" y1="288.82" x2="203.8" y2="288.82" stroke="#8a8a8a" stroke-width="0.9"/>
<rect x="205.25" y="271.1" width="2.6" height="69" fill="#676767" stroke="#4a4a4a" stroke-width="0.6"/>
<line x1="206.55" y1="270.8" x2="206.55" y2="268.03" stroke="#8a8a8a" stroke-width="0.9"/>
<line x1="204.65" y1="268.03" x2="208.45" y2="268.03" stroke="#8a8a8a" stroke-width="0.9"/>
<text x="73.65" y="215.82" font-family='"Liberation Serif", serif' font-size="8.2" font-weight="bold" text-anchor="middle" fill="#111" >***</text>
<text x="117.95" y="274.38" font-family='"Liberation Serif", serif' font-size="8.2" font-weight="bold" text-anchor="middle" fill="#111" >*</text>
<text x="135.45" y="293.09" font-family='"Liberation Serif", serif' font-size="8.2" font-weight="bold" text-anchor="middle" fill="#111" >*</text>
<text x="162.25" y="215.13" font-family='"Liberation Serif", serif' font-size="8.2" font-weight="bold" text-anchor="middle" fill="#111" >**</text>
<text x="184.4" y="300.37" font-family='"Liberation Serif", serif' font-size="8.2" font-weight="bold" text-anchor="middle" fill="#111" >*</text>
<text x="206.55" y="269.53" font-family='"Liberation Serif", serif' font-size="8.2" font-weight="bold" text-anchor="middle" fill="#111" >*</text>
<rect x="172.4" y="209.25" width="12.6" height="3.9" fill="#141414"/>
<text x="188.2" y="213.4" font-family='"Liberation Serif", serif' font-size="5.4" font-weight="bold" text-anchor="start" fill="#111" >Single dose</text>
<rect x="172.7" y="216.45" width="12" height="3.6" fill="#c4c4c4" stroke="#7a7a7a" stroke-width="0.6"/>
<text x="188.2" y="220.3" font-family='"Liberation Serif", serif' font-size="5.4" font-weight="bold" text-anchor="start" fill="#111" >Double dose</text>
<rect x="172.7" y="223.25" width="12" height="3.6" fill="#676767" stroke="#4a4a4a" stroke-width="0.6"/>
<text x="188.2" y="227.1" font-family='"Liberation Serif", serif' font-size="5.4" font-weight="bold" text-anchor="start" fill="#111" >Triple dose</text>
<rect x="257.2" y="201.6" width="196.8" height="138.7" fill="none" stroke="#8a8a8a" stroke-width="0.9"/>
<line x1="255.6" y1="340.3" x2="257.2" y2="340.3" stroke="#8a8a8a" stroke-width="0.9"/>
<text x="252" y="342.2" font-family='"Liberation Serif", serif' font-size="5.3" font-weight="bold" text-anchor="end" fill="#111" >0</text>
<line x1="255.6" y1="312.56" x2="257.2" y2="312.56" stroke="#8a8a8a" stroke-width="0.9"/>
<text x="252" y="314.46" font-family='"Liberation Serif", serif' font-size="5.3" font-weight="bold" text-anchor="end" fill="#111" >10</text>
<line x1="255.6" y1="284.82" x2="257.2" y2="284.82" stroke="#8a8a8a" stroke-width="0.9"/>
<text x="252" y="286.72" font-family='"Liberation Serif", serif' font-size="5.3" font-weight="bold" text-anchor="end" fill="#111" >20</text>
<line x1="255.6" y1="257.08" x2="257.2" y2="257.08" stroke="#8a8a8a" stroke-width="0.9"/>
<text x="252" y="258.98" font-family='"Liberation Serif", serif' font-size="5.3" font-weight="bold" text-anchor="end" fill="#111" >30</text>
<line x1="255.6" y1="229.34" x2="257.2" y2="229.34" stroke="#8a8a8a" stroke-width="0.9"/>
<text x="252" y="231.24" font-family='"Liberation Serif", serif' font-size="5.3" font-weight="bold" text-anchor="end" fill="#111" >40</text>
<line x1="255.6" y1="201.6" x2="257.2" y2="201.6" stroke="#8a8a8a" stroke-width="0.9"/>
<text x="252" y="203.5" font-family='"Liberation Serif", serif' font-size="5.3" font-weight="bold" text-anchor="end" fill="#111" >50</text>
<line x1="278.5" y1="340.3" x2="278.5" y2="342.3" stroke="#8a8a8a" stroke-width="0.9"/>
<line x1="300.4" y1="340.3" x2="300.4" y2="342.3" stroke="#8a8a8a" stroke-width="0.9"/>
<line x1="322.3" y1="340.3" x2="322.3" y2="342.3" stroke="#8a8a8a" stroke-width="0.9"/>
<line x1="344.2" y1="340.3" x2="344.2" y2="342.3" stroke="#8a8a8a" stroke-width="0.9"/>
<line x1="366.1" y1="340.3" x2="366.1" y2="342.3" stroke="#8a8a8a" stroke-width="0.9"/>
<line x1="388" y1="340.3" x2="388" y2="342.3" stroke="#8a8a8a" stroke-width="0.9"/>
<line x1="409.9" y1="340.3" x2="409.9" y2="342.3" stroke="#8a8a8a" stroke-width="0.9"/>
<line x1="431.8" y1="340.3" x2="431.8" y2="342.3" stroke="#8a8a8a" stroke-width="0.9"/>
<text x="280.8" y="346.9" font-family='"Liberation Serif", serif' font-size="5.5" font-weight="bold" text-anchor="end" fill="#111" transform="rotate(-45 280.8 346.9)">Sol Cur</text>
<text x="302.7" y="346.9" font-family='"Liberation Serif", serif' font-size="5.5" font-weight="bold" text-anchor="end" fill="#111" transform="rotate(-45 302.7 346.9)">Nano Cur</text>
<text x="324.6" y="346.9" font-family='"Liberation Serif", serif' font-size="5.5" font-weight="bold" text-anchor="end" fill="#111" transform="rotate(-45 324.6 346.9)">Sol EFV</text>
<text x="346.5" y="346.9" font-family='"Liberation Serif", serif' font-size="5.5" font-weight="bold" text-anchor="end" fill="#111" transform="rotate(-45 346.5 346.9)">Nano EFV</text>
<text x="368.4" y="346.9" font-family='"Liberation Serif", serif' font-size="5.5" font-weight="bold" text-anchor="end" fill="#111" transform="rotate(-45 368.4 346.9)">Sol comb Cur</text>
<text x="390.3" y="346.9" font-family='"Liberation Serif", serif' font-size="5.5" font-weight="bold" text-anchor="end" fill="#111" transform="rotate(-45 390.3 346.9)">Nano comb Cur</text>
<text x="412.2" y="346.9" font-family='"Liberation Serif", serif' font-size="5.5" font-weight="bold" text-anchor="end" fill="#111" transform="rotate(-45 412.2 346.9)">Sol comb EFV</text>
<text x="434.1" y="346.9" font-family='"Liberation Serif", serif' font-size="5.5" font-weight="bold" text-anchor="end" fill="#111" transform="rotate(-45 434.1 346.9)">Nano comb EFV</text>
<text x="354.4" y="197.8" font-family='"Liberation Serif", serif' font-size="7.6" font-weight="bold" text-anchor="middle" fill="#111" >Vaginal tissue drugs concentration</text>
<text x="242.8" y="267.9" font-family='"Liberation Serif", serif' font-size="6.58" font-weight="bold" text-anchor="middle" fill="#111" transform="rotate(-90 242.8 267.9)">Drugs in vaginal tissue (&#181;g/g)</text>
<text x="260.1" y="211.9" font-family='"Liberation Serif", serif' font-size="15.4" font-weight="bold" fill="#000">e</text>
<rect x="273.4" y="302.85" width="2.9" height="37.45" fill="#141414"/>
<line x1="274.85" y1="302.85" x2="274.85" y2="298.69" stroke="#8a8a8a" stroke-width="0.9"/>
<line x1="272.95" y1="298.69" x2="276.75" y2="298.69" stroke="#8a8a8a" stroke-width="0.9"/>
<rect x="277.5" y="258.49" width="3.3" height="81.81" fill="#c4c4c4" stroke="#7a7a7a" stroke-width="0.6"/>
<line x1="279.15" y1="258.19" x2="279.15" y2="247.65" stroke="#8a8a8a" stroke-width="0.9"/>
<line x1="277.25" y1="247.65" x2="281.05" y2="247.65" stroke="#8a8a8a" stroke-width="0.9"/>
<rect x="282.5" y="226.59" width="2.6" height="113.71" fill="#676767" stroke="#4a4a4a" stroke-width="0.6"/>
<line x1="283.8" y1="226.29" x2="283.8" y2="212.14" stroke="#8a8a8a" stroke-width="0.9"/>
<line x1="281.9" y1="212.14" x2="285.7" y2="212.14" stroke="#8a8a8a" stroke-width="0.9"/>
<rect x="295.3" y="303.41" width="2.9" height="36.89" fill="#141414"/>
<line x1="296.75" y1="303.41" x2="296.75" y2="298.69" stroke="#8a8a8a" stroke-width="0.9"/>
<line x1="294.85" y1="298.69" x2="298.65" y2="298.69" stroke="#8a8a8a" stroke-width="0.9"/>
<rect x="299.4" y="266.26" width="3.3" height="74.04" fill="#c4c4c4" stroke="#7a7a7a" stroke-width="0.6"/>
<line x1="301.05" y1="265.96" x2="301.05" y2="258.74" stroke="#8a8a8a" stroke-width="0.9"/>
<line x1="299.15" y1="258.74" x2="302.95" y2="258.74" stroke="#8a8a8a" stroke-width="0.9"/>
<rect x="304.4" y="232.14" width="2.6" height="108.16" fill="#676767" stroke="#4a4a4a" stroke-width="0.6"/>
<line x1="305.7" y1="231.84" x2="305.7" y2="220.19" stroke="#8a8a8a" stroke-width="0.9"/>
<line x1="303.8" y1="220.19" x2="307.6" y2="220.19" stroke="#8a8a8a" stroke-width="0.9"/>
<rect x="317.2" y="317.83" width="2.9" height="22.47" fill="#141414"/>
<line x1="318.65" y1="317.83" x2="318.65" y2="315.89" stroke="#8a8a8a" stroke-width="0.9"/>
<line x1="316.75" y1="315.89" x2="320.55" y2="315.89" stroke="#8a8a8a" stroke-width="0.9"/>
<rect x="321.3" y="304.54" width="3.3" height="35.76" fill="#c4c4c4" stroke="#7a7a7a" stroke-width="0.6"/>
<line x1="322.95" y1="304.24" x2="322.95" y2="300.08" stroke="#8a8a8a" stroke-width="0.9"/>
<line x1="321.05" y1="300.08" x2="324.85" y2="300.08" stroke="#8a8a8a" stroke-width="0.9"/>
<rect x="326.3" y="300.38" width="2.6" height="39.92" fill="#676767" stroke="#4a4a4a" stroke-width="0.6"/>
<line x1="327.6" y1="300.08" x2="327.6" y2="289.81" stroke="#8a8a8a" stroke-width="0.9"/>
<line x1="325.7" y1="289.81" x2="329.5" y2="289.81" stroke="#8a8a8a" stroke-width="0.9"/>
<rect x="339.1" y="323.1" width="2.9" height="17.2" fill="#141414"/>
<line x1="340.55" y1="323.1" x2="340.55" y2="320.33" stroke="#8a8a8a" stroke-width="0.9"/>
<line x1="338.65" y1="320.33" x2="342.45" y2="320.33" stroke="#8a8a8a" stroke-width="0.9"/>
<rect x="343.2" y="319.8" width="3.3" height="20.51" fill="#c4c4c4" stroke="#7a7a7a" stroke-width="0.6"/>
<line x1="344.85" y1="319.5" x2="344.85" y2="316.44" stroke="#8a8a8a" stroke-width="0.9"/>
<line x1="342.95" y1="316.44" x2="346.75" y2="316.44" stroke="#8a8a8a" stroke-width="0.9"/>
<rect x="348.2" y="308.42" width="2.6" height="31.88" fill="#676767" stroke="#4a4a4a" stroke-width="0.6"/>
<line x1="349.5" y1="308.12" x2="349.5" y2="303.68" stroke="#8a8a8a" stroke-width="0.9"/>
<line x1="347.6" y1="303.68" x2="351.4" y2="303.68" stroke="#8a8a8a" stroke-width="0.9"/>
<rect x="361" y="293.14" width="2.9" height="47.16" fill="#141414"/>
<line x1="362.45" y1="293.14" x2="362.45" y2="285.1" stroke="#8a8a8a" stroke-width="0.9"/>
<line x1="360.55" y1="285.1" x2="364.35" y2="285.1" stroke="#8a8a8a" stroke-width="0.9"/>
<rect x="365.1" y="252.66" width="3.3" height="87.64" fill="#c4c4c4" stroke="#7a7a7a" stroke-width="0.6"/>
<line x1="366.75" y1="252.36" x2="366.75" y2="248.48" stroke="#8a8a8a" stroke-width="0.9"/>
<line x1="364.85" y1="248.48" x2="368.65" y2="248.48" stroke="#8a8a8a" stroke-width="0.9"/>
<rect x="370.1" y="216.88" width="2.6" height="123.42" fill="#676767" stroke="#4a4a4a" stroke-width="0.6"/>
<line x1="371.4" y1="216.58" x2="371.4" y2="209.37" stroke="#8a8a8a" stroke-width="0.9"/>
<line x1="369.5" y1="209.37" x2="373.3" y2="209.37" stroke="#8a8a8a" stroke-width="0.9"/>
<rect x="382.9" y="312.56" width="2.9" height="27.74" fill="#141414"/>
<line x1="384.35" y1="312.56" x2="384.35" y2="308.12" stroke="#8a8a8a" stroke-width="0.9"/>
<line x1="382.45" y1="308.12" x2="386.25" y2="308.12" stroke="#8a8a8a" stroke-width="0.9"/>
<rect x="387" y="277.35" width="3.3" height="62.95" fill="#c4c4c4" stroke="#7a7a7a" stroke-width="0.6"/>
<line x1="388.65" y1="277.05" x2="388.65" y2="272.61" stroke="#8a8a8a" stroke-width="0.9"/>
<line x1="386.75" y1="272.61" x2="390.55" y2="272.61" stroke="#8a8a8a" stroke-width="0.9"/>
<rect x="392" y="252.11" width="2.6" height="88.19" fill="#676767" stroke="#4a4a4a" stroke-width="0.6"/>
<line x1="393.3" y1="251.81" x2="393.3" y2="244.6" stroke="#8a8a8a" stroke-width="0.9"/>
<line x1="391.4" y1="244.6" x2="395.2" y2="244.6" stroke="#8a8a8a" stroke-width="0.9"/>
<rect x="404.8" y="310.34" width="2.9" height="29.96" fill="#141414"/>
<line x1="406.25" y1="310.34" x2="406.25" y2="305.62" stroke="#8a8a8a" stroke-width="0.9"/>
<line x1="404.35" y1="305.62" x2="408.15" y2="305.62" stroke="#8a8a8a" stroke-width="0.9"/>
<rect x="408.9" y="271.25" width="3.3" height="69.05" fill="#c4c4c4" stroke="#7a7a7a" stroke-width="0.6"/>
<line x1="410.55" y1="270.95" x2="410.55" y2="264.01" stroke="#8a8a8a" stroke-width="0.9"/>
<line x1="408.65" y1="264.01" x2="412.45" y2="264.01" stroke="#8a8a8a" stroke-width="0.9"/>
<rect x="413.9" y="245.45" width="2.6" height="94.85" fill="#676767" stroke="#4a4a4a" stroke-width="0.6"/>
<line x1="415.2" y1="245.15" x2="415.2" y2="239.33" stroke="#8a8a8a" stroke-width="0.9"/>
<line x1="413.3" y1="239.33" x2="417.1" y2="239.33" stroke="#8a8a8a" stroke-width="0.9"/>
<rect x="426.7" y="323.38" width="2.9" height="16.92" fill="#141414"/>
<line x1="428.15" y1="323.38" x2="428.15" y2="318.94" stroke="#8a8a8a" stroke-width="0.9"/>
<line x1="426.25" y1="318.94" x2="430.05" y2="318.94" stroke="#8a8a8a" stroke-width="0.9"/>
<rect x="430.8" y="303.15" width="3.3" height="37.15" fill="#c4c4c4" stroke="#7a7a7a" stroke-width="0.6"/>
<line x1="432.45" y1="302.85" x2="432.45" y2="299.8" stroke="#8a8a8a" stroke-width="0.9"/>
<line x1="430.55" y1="299.8" x2="434.35" y2="299.8" stroke="#8a8a8a" stroke-width="0.9"/>
<rect x="435.8" y="285.67" width="2.6" height="54.63" fill="#676767" stroke="#4a4a4a" stroke-width="0.6"/>
<line x1="437.1" y1="285.37" x2="437.1" y2="279.83" stroke="#8a8a8a" stroke-width="0.9"/>
<line x1="435.2" y1="279.83" x2="439" y2="279.83" stroke="#8a8a8a" stroke-width="0.9"/>
<text x="283.8" y="213.64" font-family='"Liberation Serif", serif' font-size="8.2" font-weight="bold" text-anchor="middle" fill="#111" >***</text>
<text x="301.05" y="260.24" font-family='"Liberation Serif", serif' font-size="8.2" font-weight="bold" text-anchor="middle" fill="#111" >*</text>
<text x="305.7" y="221.69" font-family='"Liberation Serif", serif' font-size="8.2" font-weight="bold" text-anchor="middle" fill="#111" >**</text>
<text x="327.6" y="291.31" font-family='"Liberation Serif", serif' font-size="8.2" font-weight="bold" text-anchor="middle" fill="#111" >**</text>
<text x="366.75" y="249.98" font-family='"Liberation Serif", serif' font-size="8.2" font-weight="bold" text-anchor="middle" fill="#111" >*</text>
<text x="371.4" y="210.87" font-family='"Liberation Serif", serif' font-size="8.2" font-weight="bold" text-anchor="middle" fill="#111" >**</text>
<text x="388.65" y="274.11" font-family='"Liberation Serif", serif' font-size="8.2" font-weight="bold" text-anchor="middle" fill="#111" >*</text>
<text x="415.2" y="240.83" font-family='"Liberation Serif", serif' font-size="8.2" font-weight="bold" text-anchor="middle" fill="#111" >**</text>
<text x="432.45" y="301.3" font-family='"Liberation Serif", serif' font-size="8.2" font-weight="bold" text-anchor="middle" fill="#111" >*</text>
<rect x="402.2" y="210.65" width="12.8" height="3.9" fill="#141414"/>
<text x="418.2" y="214.8" font-family='"Liberation Serif", serif' font-size="5.4" font-weight="bold" text-anchor="start" fill="#111" >Single dose</text>
<rect x="402.5" y="217.85" width="12.2" height="3.6" fill="#c4c4c4" stroke="#7a7a7a" stroke-width="0.6"/>
<text x="418.2" y="221.7" font-family='"Liberation Serif", serif' font-size="5.4" font-weight="bold" text-anchor="start" fill="#111" >Double dose</text>
<rect x="402.5" y="224.65" width="12.2" height="3.6" fill="#676767" stroke="#4a4a4a" stroke-width="0.6"/>
<text x="418.2" y="228.5" font-family='"Liberation Serif", serif' font-size="5.4" font-weight="bold" text-anchor="start" fill="#111" >Triple dose</text>
<rect x="487" y="201.5" width="195.9" height="137.1" fill="none" stroke="#8a8a8a" stroke-width="0.9"/>
<line x1="485.4" y1="338.6" x2="487" y2="338.6" stroke="#8a8a8a" stroke-width="0.9"/>
<text x="482.2" y="341.2" font-family='"Liberation Serif", serif' font-size="5.3" font-weight="bold" text-anchor="end" fill="#111" >0</text>
<line x1="485.4" y1="311.18" x2="487" y2="311.18" stroke="#8a8a8a" stroke-width="0.9"/>
<text x="482.2" y="313.78" font-family='"Liberation Serif", serif' font-size="5.3" font-weight="bold" text-anchor="end" fill="#111" >10</text>
<line x1="485.4" y1="283.76" x2="487" y2="283.76" stroke="#8a8a8a" stroke-width="0.9"/>
<text x="482.2" y="286.36" font-family='"Liberation Serif", serif' font-size="5.3" font-weight="bold" text-anchor="end" fill="#111" >20</text>
<line x1="485.4" y1="256.34" x2="487" y2="256.34" stroke="#8a8a8a" stroke-width="0.9"/>
<text x="482.2" y="258.94" font-family='"Liberation Serif", serif' font-size="5.3" font-weight="bold" text-anchor="end" fill="#111" >30</text>
<line x1="485.4" y1="228.92" x2="487" y2="228.92" stroke="#8a8a8a" stroke-width="0.9"/>
<text x="482.2" y="231.52" font-family='"Liberation Serif", serif' font-size="5.3" font-weight="bold" text-anchor="end" fill="#111" >40</text>
<line x1="485.4" y1="201.5" x2="487" y2="201.5" stroke="#8a8a8a" stroke-width="0.9"/>
<text x="482.2" y="204.1" font-family='"Liberation Serif", serif' font-size="5.3" font-weight="bold" text-anchor="end" fill="#111" >50</text>
<line x1="508.3" y1="338.6" x2="508.3" y2="340.6" stroke="#8a8a8a" stroke-width="0.9"/>
<line x1="530.05" y1="338.6" x2="530.05" y2="340.6" stroke="#8a8a8a" stroke-width="0.9"/>
<line x1="551.8" y1="338.6" x2="551.8" y2="340.6" stroke="#8a8a8a" stroke-width="0.9"/>
<line x1="573.55" y1="338.6" x2="573.55" y2="340.6" stroke="#8a8a8a" stroke-width="0.9"/>
<line x1="595.3" y1="338.6" x2="595.3" y2="340.6" stroke="#8a8a8a" stroke-width="0.9"/>
<line x1="617.05" y1="338.6" x2="617.05" y2="340.6" stroke="#8a8a8a" stroke-width="0.9"/>
<line x1="638.8" y1="338.6" x2="638.8" y2="340.6" stroke="#8a8a8a" stroke-width="0.9"/>
<line x1="660.55" y1="338.6" x2="660.55" y2="340.6" stroke="#8a8a8a" stroke-width="0.9"/>
<text x="510.6" y="345.2" font-family='"Liberation Serif", serif' font-size="5.5" font-weight="bold" text-anchor="end" fill="#111" transform="rotate(-45 510.6 345.2)">Sol Cur</text>
<text x="532.35" y="345.2" font-family='"Liberation Serif", serif' font-size="5.5" font-weight="bold" text-anchor="end" fill="#111" transform="rotate(-45 532.35 345.2)">Nano Cur</text>
<text x="554.1" y="345.2" font-family='"Liberation Serif", serif' font-size="5.5" font-weight="bold" text-anchor="end" fill="#111" transform="rotate(-45 554.1 345.2)">Sol EFV</text>
<text x="575.85" y="345.2" font-family='"Liberation Serif", serif' font-size="5.5" font-weight="bold" text-anchor="end" fill="#111" transform="rotate(-45 575.85 345.2)">Nano EFV</text>
<text x="597.6" y="345.2" font-family='"Liberation Serif", serif' font-size="5.5" font-weight="bold" text-anchor="end" fill="#111" transform="rotate(-45 597.6 345.2)">Sol comb Cur</text>
<text x="619.35" y="345.2" font-family='"Liberation Serif", serif' font-size="5.5" font-weight="bold" text-anchor="end" fill="#111" transform="rotate(-45 619.35 345.2)">Nano comb Cur</text>
<text x="641.1" y="345.2" font-family='"Liberation Serif", serif' font-size="5.5" font-weight="bold" text-anchor="end" fill="#111" transform="rotate(-45 641.1 345.2)">Sol comb EFV</text>
<text x="662.85" y="345.2" font-family='"Liberation Serif", serif' font-size="5.5" font-weight="bold" text-anchor="end" fill="#111" transform="rotate(-45 662.85 345.2)">Nano comb EFV</text>
<text x="584.1" y="197.7" font-family='"Liberation Serif", serif' font-size="7.6" font-weight="bold" text-anchor="middle" fill="#111" >Plasma drugs concentration</text>
<text x="473" y="266.5" font-family='"Liberation Serif", serif' font-size="6.58" font-weight="bold" text-anchor="middle" fill="#111" transform="rotate(-90 473 266.5)">Drugs in plasma(ng/ml)</text>
<text x="490" y="214.5" font-family='"Liberation Serif", serif' font-size="16.8" font-weight="bold" fill="#000">f</text>
<rect x="503.2" y="312" width="2.9" height="26.6" fill="#141414"/>
<line x1="504.65" y1="312" x2="504.65" y2="307.07" stroke="#8a8a8a" stroke-width="0.9"/>
<line x1="502.75" y1="307.07" x2="506.55" y2="307.07" stroke="#8a8a8a" stroke-width="0.9"/>
<rect x="507.3" y="302.98" width="3.3" height="35.62" fill="#c4c4c4" stroke="#7a7a7a" stroke-width="0.6"/>
<line x1="508.95" y1="302.68" x2="508.95" y2="291.44" stroke="#8a8a8a" stroke-width="0.9"/>
<line x1="507.05" y1="291.44" x2="510.85" y2="291.44" stroke="#8a8a8a" stroke-width="0.9"/>
<rect x="512.3" y="263.5" width="2.6" height="75.11" fill="#676767" stroke="#4a4a4a" stroke-width="0.6"/>
<line x1="513.6" y1="263.19" x2="513.6" y2="250.86" stroke="#8a8a8a" stroke-width="0.9"/>
<line x1="511.7" y1="250.86" x2="515.5" y2="250.86" stroke="#8a8a8a" stroke-width="0.9"/>
<rect x="524.95" y="333.39" width="2.9" height="5.21" fill="#141414"/>
<line x1="526.4" y1="333.39" x2="526.4" y2="332.02" stroke="#8a8a8a" stroke-width="0.9"/>
<line x1="524.5" y1="332.02" x2="528.3" y2="332.02" stroke="#8a8a8a" stroke-width="0.9"/>
<rect x="529.05" y="329.58" width="3.3" height="9.02" fill="#c4c4c4" stroke="#7a7a7a" stroke-width="0.6"/>
<line x1="530.7" y1="329.28" x2="530.7" y2="326.26" stroke="#8a8a8a" stroke-width="0.9"/>
<line x1="528.8" y1="326.26" x2="532.6" y2="326.26" stroke="#8a8a8a" stroke-width="0.9"/>
<rect x="534.05" y="322.72" width="2.6" height="15.88" fill="#676767" stroke="#4a4a4a" stroke-width="0.6"/>
<line x1="535.35" y1="322.42" x2="535.35" y2="315.02" stroke="#8a8a8a" stroke-width="0.9"/>
<line x1="533.45" y1="315.02" x2="537.25" y2="315.02" stroke="#8a8a8a" stroke-width="0.9"/>
<rect x="546.7" y="321.6" width="2.9" height="17" fill="#141414"/>
<line x1="548.15" y1="321.6" x2="548.15" y2="319.68" stroke="#8a8a8a" stroke-width="0.9"/>
<line x1="546.25" y1="319.68" x2="550.05" y2="319.68" stroke="#8a8a8a" stroke-width="0.9"/>
<rect x="550.8" y="317.24" width="3.3" height="21.36" fill="#c4c4c4" stroke="#7a7a7a" stroke-width="0.6"/>
<line x1="552.45" y1="316.94" x2="552.45" y2="314.2" stroke="#8a8a8a" stroke-width="0.9"/>
<line x1="550.55" y1="314.2" x2="554.35" y2="314.2" stroke="#8a8a8a" stroke-width="0.9"/>
<rect x="555.8" y="285.16" width="2.6" height="53.44" fill="#676767" stroke="#4a4a4a" stroke-width="0.6"/>
<line x1="557.1" y1="284.86" x2="557.1" y2="281.02" stroke="#8a8a8a" stroke-width="0.9"/>
<line x1="555.2" y1="281.02" x2="559" y2="281.02" stroke="#8a8a8a" stroke-width="0.9"/>
<rect x="568.45" y="334.49" width="2.9" height="4.11" fill="#141414"/>
<line x1="569.9" y1="334.49" x2="569.9" y2="331.75" stroke="#8a8a8a" stroke-width="0.9"/>
<line x1="568" y1="331.75" x2="571.8" y2="331.75" stroke="#8a8a8a" stroke-width="0.9"/>
<rect x="572.55" y="332.32" width="3.3" height="6.28" fill="#c4c4c4" stroke="#7a7a7a" stroke-width="0.6"/>
<line x1="574.2" y1="332.02" x2="574.2" y2="326.81" stroke="#8a8a8a" stroke-width="0.9"/>
<line x1="572.3" y1="326.81" x2="576.1" y2="326.81" stroke="#8a8a8a" stroke-width="0.9"/>
<rect x="577.55" y="311.75" width="2.6" height="26.85" fill="#676767" stroke="#4a4a4a" stroke-width="0.6"/>
<line x1="578.85" y1="311.45" x2="578.85" y2="302.41" stroke="#8a8a8a" stroke-width="0.9"/>
<line x1="576.95" y1="302.41" x2="580.75" y2="302.41" stroke="#8a8a8a" stroke-width="0.9"/>
<rect x="590.2" y="291.99" width="2.9" height="46.61" fill="#141414"/>
<line x1="591.65" y1="291.99" x2="591.65" y2="290.07" stroke="#8a8a8a" stroke-width="0.9"/>
<line x1="589.75" y1="290.07" x2="593.55" y2="290.07" stroke="#8a8a8a" stroke-width="0.9"/>
<rect x="594.3" y="251.98" width="3.3" height="86.62" fill="#c4c4c4" stroke="#7a7a7a" stroke-width="0.6"/>
<line x1="595.95" y1="251.68" x2="595.95" y2="248.66" stroke="#8a8a8a" stroke-width="0.9"/>
<line x1="594.05" y1="248.66" x2="597.85" y2="248.66" stroke="#8a8a8a" stroke-width="0.9"/>
<rect x="599.3" y="216.33" width="2.6" height="122.27" fill="#676767" stroke="#4a4a4a" stroke-width="0.6"/>
<line x1="600.6" y1="216.03" x2="600.6" y2="209.45" stroke="#8a8a8a" stroke-width="0.9"/>
<line x1="598.7" y1="209.45" x2="602.5" y2="209.45" stroke="#8a8a8a" stroke-width="0.9"/>
<rect x="611.95" y="313.65" width="2.9" height="24.95" fill="#141414"/>
<line x1="613.4" y1="313.65" x2="613.4" y2="312" stroke="#8a8a8a" stroke-width="0.9"/>
<line x1="611.5" y1="312" x2="615.3" y2="312" stroke="#8a8a8a" stroke-width="0.9"/>
<rect x="616.05" y="287.9" width="3.3" height="50.7" fill="#c4c4c4" stroke="#7a7a7a" stroke-width="0.6"/>
<line x1="617.7" y1="287.6" x2="617.7" y2="285.95" stroke="#8a8a8a" stroke-width="0.9"/>
<line x1="615.8" y1="285.95" x2="619.6" y2="285.95" stroke="#8a8a8a" stroke-width="0.9"/>
<rect x="621.05" y="257.19" width="2.6" height="81.41" fill="#676767" stroke="#4a4a4a" stroke-width="0.6"/>
<line x1="622.35" y1="256.89" x2="622.35" y2="249.49" stroke="#8a8a8a" stroke-width="0.9"/>
<line x1="620.45" y1="249.49" x2="624.25" y2="249.49" stroke="#8a8a8a" stroke-width="0.9"/>
<rect x="633.7" y="308.99" width="2.9" height="29.61" fill="#141414"/>
<line x1="635.15" y1="308.99" x2="635.15" y2="308.16" stroke="#8a8a8a" stroke-width="0.9"/>
<line x1="633.25" y1="308.16" x2="637.05" y2="308.16" stroke="#8a8a8a" stroke-width="0.9"/>
<rect x="637.8" y="269.53" width="3.3" height="69.07" fill="#c4c4c4" stroke="#7a7a7a" stroke-width="0.6"/>
<line x1="639.45" y1="269.23" x2="639.45" y2="267.31" stroke="#8a8a8a" stroke-width="0.9"/>
<line x1="637.55" y1="267.31" x2="641.35" y2="267.31" stroke="#8a8a8a" stroke-width="0.9"/>
<rect x="642.8" y="244.58" width="2.6" height="94.02" fill="#676767" stroke="#4a4a4a" stroke-width="0.6"/>
<line x1="644.1" y1="244.28" x2="644.1" y2="239.07" stroke="#8a8a8a" stroke-width="0.9"/>
<line x1="642.2" y1="239.07" x2="646" y2="239.07" stroke="#8a8a8a" stroke-width="0.9"/>
<rect x="655.45" y="324.62" width="2.9" height="13.98" fill="#141414"/>
<line x1="656.9" y1="324.62" x2="656.9" y2="323.24" stroke="#8a8a8a" stroke-width="0.9"/>
<line x1="655" y1="323.24" x2="658.8" y2="323.24" stroke="#8a8a8a" stroke-width="0.9"/>
<rect x="659.55" y="307.37" width="3.3" height="31.23" fill="#c4c4c4" stroke="#7a7a7a" stroke-width="0.6"/>
<line x1="661.2" y1="307.07" x2="661.2" y2="304.05" stroke="#8a8a8a" stroke-width="0.9"/>
<line x1="659.3" y1="304.05" x2="663.1" y2="304.05" stroke="#8a8a8a" stroke-width="0.9"/>
<rect x="664.55" y="284.33" width="2.6" height="54.27" fill="#676767" stroke="#4a4a4a" stroke-width="0.6"/>
<line x1="665.85" y1="284.03" x2="665.85" y2="278.82" stroke="#8a8a8a" stroke-width="0.9"/>
<line x1="663.95" y1="278.82" x2="667.75" y2="278.82" stroke="#8a8a8a" stroke-width="0.9"/>
<text x="508.95" y="292.94" font-family='"Liberation Serif", serif' font-size="8.2" font-weight="bold" text-anchor="middle" fill="#111" >**</text>
<text x="513.6" y="252.36" font-family='"Liberation Serif", serif' font-size="8.2" font-weight="bold" text-anchor="middle" fill="#111" >**</text>
<text x="578.85" y="303.91" font-family='"Liberation Serif", serif' font-size="8.2" font-weight="bold" text-anchor="middle" fill="#111" >**</text>
<text x="595.95" y="250.16" font-family='"Liberation Serif", serif' font-size="8.2" font-weight="bold" text-anchor="middle" fill="#111" >*</text>
<text x="600.6" y="210.95" font-family='"Liberation Serif", serif' font-size="8.2" font-weight="bold" text-anchor="middle" fill="#111" >**</text>
<text x="617.7" y="287.45" font-family='"Liberation Serif", serif' font-size="8.2" font-weight="bold" text-anchor="middle" fill="#111" >*</text>
<text x="622.35" y="250.99" font-family='"Liberation Serif", serif' font-size="8.2" font-weight="bold" text-anchor="middle" fill="#111" >**</text>
<text x="639.45" y="268.81" font-family='"Liberation Serif", serif' font-size="8.2" font-weight="bold" text-anchor="middle" fill="#111" >*</text>
<text x="644.1" y="240.57" font-family='"Liberation Serif", serif' font-size="8.2" font-weight="bold" text-anchor="middle" fill="#111" >**</text>
<text x="661.2" y="305.55" font-family='"Liberation Serif", serif' font-size="8.2" font-weight="bold" text-anchor="middle" fill="#111" >*</text>
<rect x="632.7" y="209.65" width="12.9" height="3.9" fill="#141414"/>
<text x="648.2" y="213.8" font-family='"Liberation Serif", serif' font-size="5.4" font-weight="bold" text-anchor="start" fill="#111" >Single dose</text>
<rect x="633" y="216.65" width="12.3" height="3.6" fill="#c4c4c4" stroke="#7a7a7a" stroke-width="0.6"/>
<text x="648.2" y="220.5" font-family='"Liberation Serif", serif' font-size="5.4" font-weight="bold" text-anchor="start" fill="#111" >Double dose</text>
<rect x="633" y="223.45" width="12.3" height="3.6" fill="#676767" stroke="#4a4a4a" stroke-width="0.6"/>
<text x="648.2" y="227.3" font-family='"Liberation Serif", serif' font-size="5.4" font-weight="bold" text-anchor="start" fill="#111" >Triple dose</text>
</svg>
</body></html>
